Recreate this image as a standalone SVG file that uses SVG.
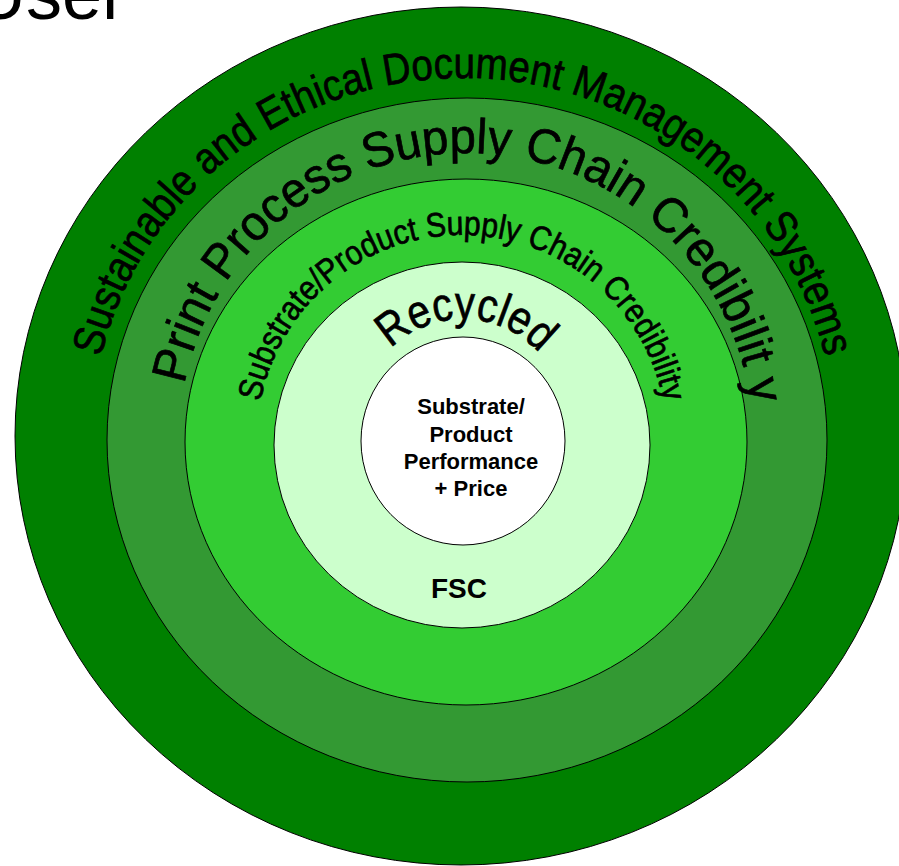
<svg xmlns="http://www.w3.org/2000/svg" xmlns:xlink="http://www.w3.org/1999/xlink" width="899" height="866" viewBox="0 0 899 866">
<style>
.ring{stroke:#000;stroke-width:1}
.arc{font-family:"Liberation Sans",Arial,sans-serif;fill:#000;stroke:#000;stroke-width:0.7}
.ctr{font-family:"Liberation Sans",Arial,sans-serif;font-weight:bold;fill:#000;text-anchor:middle}
</style>
<defs>
<path id="pOuter" d="M 91 440 A 372 362 0 0 1 835 440" fill="none"/>
<path id="pPrint" d="M 179 440 A 287 287 0 0 1 753 440" fill="none"/>
<path id="pSub" d="M 257 440 A 205 205 0 0 1 667 440" fill="none"/>
<path id="pRec" d="M 361 421 A 102 102 0 0 1 565 421" fill="none"/>
</defs>
<rect x="0" y="0" width="899" height="866" fill="#fff"/>
<text x="-26" y="19" font-family="'Liberation Sans',Arial,sans-serif" font-size="72" fill="#000">User</text>
<g id="ring-sustainable">
<ellipse class="ring" cx="461" cy="436" rx="446" ry="429" fill="#008000"/>
</g>
<g id="ring-print">
<ellipse class="ring" cx="467" cy="440" rx="360" ry="342" fill="#339933"/>
</g>
<g id="ring-substrate">
<ellipse class="ring" cx="466" cy="442" rx="281" ry="263" fill="#33cc33"/>
</g>
<g id="ring-recycled">
<ellipse class="ring" cx="462" cy="445" rx="188" ry="183" fill="#ccffcc"/>
<text class="ctr" x="459" y="598" font-size="28">FSC</text>
</g>
<g id="core">
<ellipse class="ring" cx="463" cy="441" rx="102" ry="104" fill="#ffffff"/>
<text class="ctr" font-size="22"><tspan x="471" y="414">Substrate/</tspan><tspan x="471" y="442">Product</tspan><tspan x="471" y="469">Performance</tspan><tspan x="471" y="496">+ Price</tspan></text>
</g>
<g id="arc-labels">
<text class="arc" font-size="44"><textPath xlink:href="#pOuter" href="#pOuter" startOffset="50%" text-anchor="middle" textLength="985" lengthAdjust="spacingAndGlyphs">Sustainable and Ethical Document Management Systems</textPath></text>
<text class="arc" font-size="49"><textPath xlink:href="#pPrint" href="#pPrint" startOffset="51.1%" text-anchor="middle" textLength="809" lengthAdjust="spacingAndGlyphs">Print Process Supply Chain Credibilit y</textPath></text>
<text class="arc" font-size="34"><textPath xlink:href="#pSub" href="#pSub" startOffset="50%" text-anchor="middle" textLength="567" lengthAdjust="spacingAndGlyphs">Substrate/Product Supply Chain Credibility</textPath></text>
<text class="arc" font-size="47"><textPath xlink:href="#pRec" href="#pRec" startOffset="50.9%" text-anchor="middle" textLength="166" lengthAdjust="spacingAndGlyphs">Recycled</textPath></text>
</g>
</svg>
